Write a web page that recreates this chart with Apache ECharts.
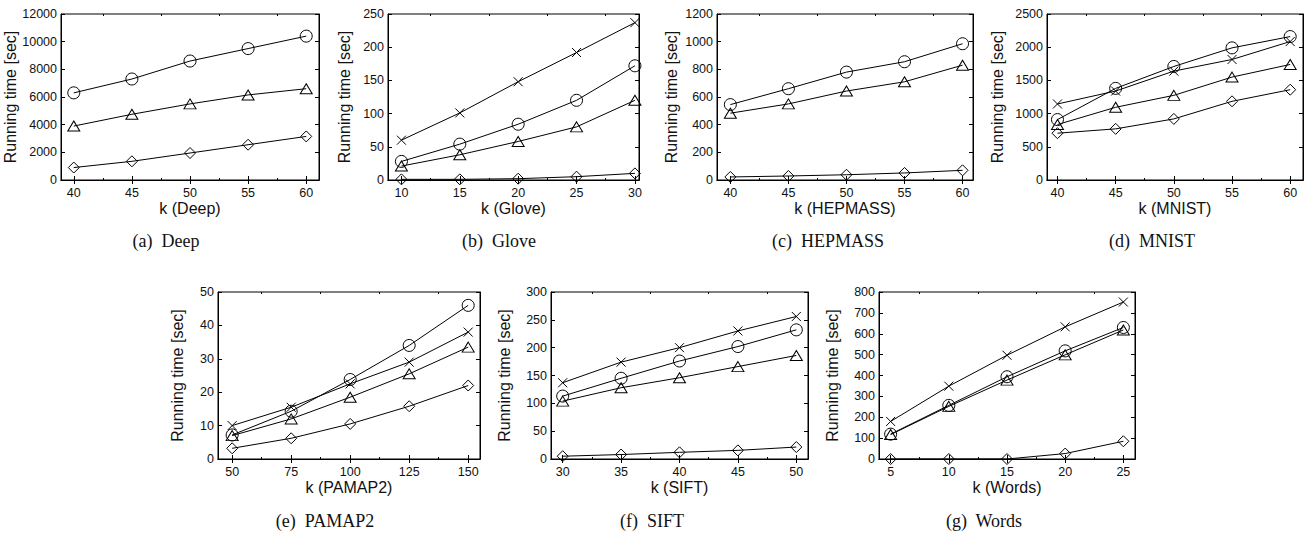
<!DOCTYPE html>
<html>
<head>
<meta charset="utf-8">
<script src="https://cdn.jsdelivr.net/npm/echarts@6/dist/echarts.min.js"></script>
<style>
  html, body { margin: 0; background: #fff; }
  #main { width: 1304px; height: 538px; }
</style>
</head>
<body>
<div id="main"></div>
<script>
// ---- data ----
var deepK = [40, 45, 50, 55, 60];
var deepCircle = [6300, 7300, 8600, 9500, 10400];
var deepTriangle = [3900, 4750, 5500, 6150, 6600];
var deepDiamond = [900, 1350, 1950, 2550, 3150];

var gloveK = [10, 15, 20, 25, 30];
var gloveCross = [60, 101, 148, 192, 237];
var gloveCircle = [28, 54, 84, 120, 172];
var gloveTriangle = [21, 38, 58, 80, 120];
var gloveDiamond = [1, 1, 2, 5, 10];

var hepmassK = [40, 45, 50, 55, 60];
var hepmassCircle = [545, 660, 780, 855, 985];
var hepmassTriangle = [483, 550, 643, 710, 830];
var hepmassDiamond = [22, 29, 38, 51, 70];

var mnistK = [40, 45, 50, 55, 60];
var mnistCross = [1145, 1340, 1640, 1815, 2085];
var mnistCircle = [910, 1380, 1710, 1990, 2160];
var mnistTriangle = [835, 1095, 1275, 1550, 1740];
var mnistDiamond = [705, 770, 920, 1185, 1360];

var pamapK = [50, 75, 100, 125, 150];
var pamapCross = [10, 15.5, 22.5, 29, 38];
var pamapCircle = [7.2, 14.3, 23.8, 34, 46];
var pamapTriangle = [7, 12, 18.5, 25.5, 33.5];
var pamapDiamond = [3.2, 6.2, 10.5, 15.8, 22];

var siftK = [30, 35, 40, 45, 50];
var siftCross = [137, 174, 200, 230, 256];
var siftCircle = [113, 145, 176, 202, 232];
var siftTriangle = [104, 128, 146, 166, 186];
var siftDiamond = [5, 8, 12, 15.5, 21.5];

var wordsK = [5, 10, 15, 20, 25];
var wordsCross = [180, 349, 497, 633, 752];
var wordsCircle = [119, 257, 394, 518, 630];
var wordsTriangle = [117, 252, 378, 499, 618];
var wordsDiamond = [0, 0, 0, 26, 85];

// y tick labels per panel
var deepYTicks = [0, 2000, 4000, 6000, 8000, 10000, 12000];
var gloveYTicks = [0, 50, 100, 150, 200, 250];
var hepmassYTicks = [0, 200, 400, 600, 800, 1000, 1200];
var mnistYTicks = [0, 500, 1000, 1500, 2000, 2500];
var pamapYTicks = [0, 10, 20, 30, 40, 50];
var siftYTicks = [0, 50, 100, 150, 200, 250, 300];
var wordsYTicks = [0, 100, 200, 300, 400, 500, 600, 700, 800];

var panels = [
  { name: 'Deep', caption: '(a)  Deep', k: deepK, yTicks: deepYTicks,
    lines: { circle: deepCircle, triangle: deepTriangle, diamond: deepDiamond } },
  { name: 'Glove', caption: '(b)  Glove', k: gloveK, yTicks: gloveYTicks,
    lines: { cross: gloveCross, circle: gloveCircle, triangle: gloveTriangle, diamond: gloveDiamond } },
  { name: 'HEPMASS', caption: '(c)  HEPMASS', k: hepmassK, yTicks: hepmassYTicks,
    lines: { circle: hepmassCircle, triangle: hepmassTriangle, diamond: hepmassDiamond } },
  { name: 'MNIST', caption: '(d)  MNIST', k: mnistK, yTicks: mnistYTicks,
    lines: { cross: mnistCross, circle: mnistCircle, triangle: mnistTriangle, diamond: mnistDiamond } },
  { name: 'PAMAP2', caption: '(e)  PAMAP2', k: pamapK, yTicks: pamapYTicks,
    lines: { cross: pamapCross, circle: pamapCircle, triangle: pamapTriangle, diamond: pamapDiamond } },
  { name: 'SIFT', caption: '(f)  SIFT', k: siftK, yTicks: siftYTicks,
    lines: { cross: siftCross, circle: siftCircle, triangle: siftTriangle, diamond: siftDiamond } },
  { name: 'Words', caption: '(g)  Words', k: wordsK, yTicks: wordsYTicks,
    lines: { cross: wordsCross, circle: wordsCircle, triangle: wordsTriangle, diamond: wordsDiamond } }
];

// ---- layout (pixels) ----
var layout = [
  { left: 61,   top: 14,  width: 258, height: 166, xmin: 38.9, xmax: 61.1,  yGap: 36, capX: 166,  capY: 241 },
  { left: 388,  top: 14,  width: 251, height: 166, xmin: 8.85, xmax: 30.35, yGap: 36, capX: 499,  capY: 241 },
  { left: 717,  top: 14,  width: 256, height: 166, xmin: 38.85, xmax: 60.9, yGap: 38, capX: 828,  capY: 241 },
  { left: 1047, top: 14,  width: 256, height: 166, xmin: 39.1, xmax: 61.1,  yGap: 42, capX: 1152, capY: 241 },
  { left: 218,  top: 292, width: 262, height: 167, xmin: 44,   xmax: 155,   yGap: 33, capX: 325,  capY: 521 },
  { left: 551,  top: 292, width: 257, height: 167, xmin: 29,   xmax: 51,    yGap: 39, capX: 652,  capY: 521 },
  { left: 879,  top: 292, width: 256, height: 167, xmin: 4,    xmax: 26,    yGap: 39, capX: 984,  capY: 521 }
];

var symbols = {
  cross: { symbol: 'path://M0,0L10,10M10,0L0,10', size: 9 },
  circle: { symbol: 'circle', size: 12 },
  triangle: { symbol: 'triangle', size: [12, 10] },
  diamond: { symbol: 'diamond', size: 11 }
};

var sans = 'Liberation Sans, Arial, Helvetica, sans-serif';
var grids = [], xAxes = [], yAxes = [], series = [], graphics = [];
function plain(v) { return String(v); }

panels.forEach(function (p, i) {
  var L = layout[i];
  var step = p.k[1] - p.k[0];
  var minorTicks = [];
  for (var j = 0; j < p.k.length - 1; j++) minorTicks.push(p.k[j] + step / 2);
  var ymax = p.yTicks[p.yTicks.length - 1];

  grids.push({ left: L.left, top: L.top, width: L.width, height: L.height,
    show: true, borderColor: '#000', borderWidth: 1, backgroundColor: 'transparent' });

  var baseX = {
    type: 'value', gridIndex: i, min: L.xmin, max: L.xmax, splitLine: { show: false },
    axisLine: { lineStyle: { color: '#000', width: 1 } }
  };
  // bottom axis with labels + name
  xAxes.push(Object.assign({}, baseX, {
    position: 'bottom',
    name: 'k (' + p.name + ')', nameLocation: 'middle', nameGap: 20,
    nameTextStyle: { fontFamily: sans, fontSize: 16, color: '#111' },
    axisLabel: { customValues: p.k, margin: 6, fontFamily: sans, fontSize: 12.5, color: '#111', formatter: plain },
    axisTick: { inside: true, length: 4, customValues: p.k, lineStyle: { color: '#000' } }
  }));
  // top axis (ticks only)
  xAxes.push(Object.assign({}, baseX, {
    position: 'top', axisLabel: { show: false },
    axisTick: { inside: true, length: 4, customValues: p.k, lineStyle: { color: '#000' } }
  }));
  // minor ticks bottom / top
  xAxes.push(Object.assign({}, baseX, {
    position: 'bottom', axisLine: { show: false }, axisLabel: { show: false },
    axisTick: { inside: true, length: 2, customValues: minorTicks, lineStyle: { color: '#000' } }
  }));
  xAxes.push(Object.assign({}, baseX, {
    position: 'top', axisLine: { show: false }, axisLabel: { show: false },
    axisTick: { inside: true, length: 2, customValues: minorTicks, lineStyle: { color: '#000' } }
  }));

  var baseY = {
    type: 'value', gridIndex: i, min: 0, max: ymax, splitLine: { show: false },
    axisLine: { show: true, lineStyle: { color: '#000', width: 1 } }
  };
  yAxes.push(Object.assign({}, baseY, {
    position: 'left',
    name: 'Running time [sec]', nameLocation: 'middle', nameGap: L.yGap,
    nameTextStyle: { fontFamily: sans, fontSize: 16, color: '#111' },
    axisLabel: { customValues: p.yTicks, margin: 4, fontFamily: sans, fontSize: 12.5, color: '#111', formatter: plain },
    axisTick: { inside: true, length: 4, customValues: p.yTicks, lineStyle: { color: '#000' } }
  }));
  yAxes.push(Object.assign({}, baseY, {
    position: 'right', axisLabel: { show: false },
    axisTick: { inside: true, length: 4, customValues: p.yTicks, lineStyle: { color: '#000' } }
  }));

  Object.keys(p.lines).forEach(function (key) {
    var vals = p.lines[key];
    series.push({
      type: 'line', name: p.name + ' ' + key,
      xAxisIndex: i * 4, yAxisIndex: i * 2,
      data: p.k.map(function (x, j) { return [x, vals[j]]; }),
      symbol: symbols[key].symbol, symbolSize: symbols[key].size,
      showAllSymbol: true, clip: false,
      lineStyle: { color: '#000', width: 1 },
      itemStyle: { color: 'rgba(0,0,0,0)', borderColor: '#000', borderWidth: 1 },
      emphasis: { disabled: true },
      animation: false
    });
  });

  graphics.push({
    type: 'text', x: L.capX, y: L.capY,
    style: { text: p.caption, font: '18px "Liberation Serif", "DejaVu Serif", serif',
      fill: '#111', textAlign: 'center', textVerticalAlign: 'middle' }
  });
});

var myChart = echarts.init(document.getElementById('main'), null, { renderer: 'svg' });
myChart.setOption({
  animation: false,
  backgroundColor: '#fff',
  grid: grids,
  xAxis: xAxes,
  yAxis: yAxes,
  series: series,
  graphic: graphics
});
</script>
</body>
</html>
